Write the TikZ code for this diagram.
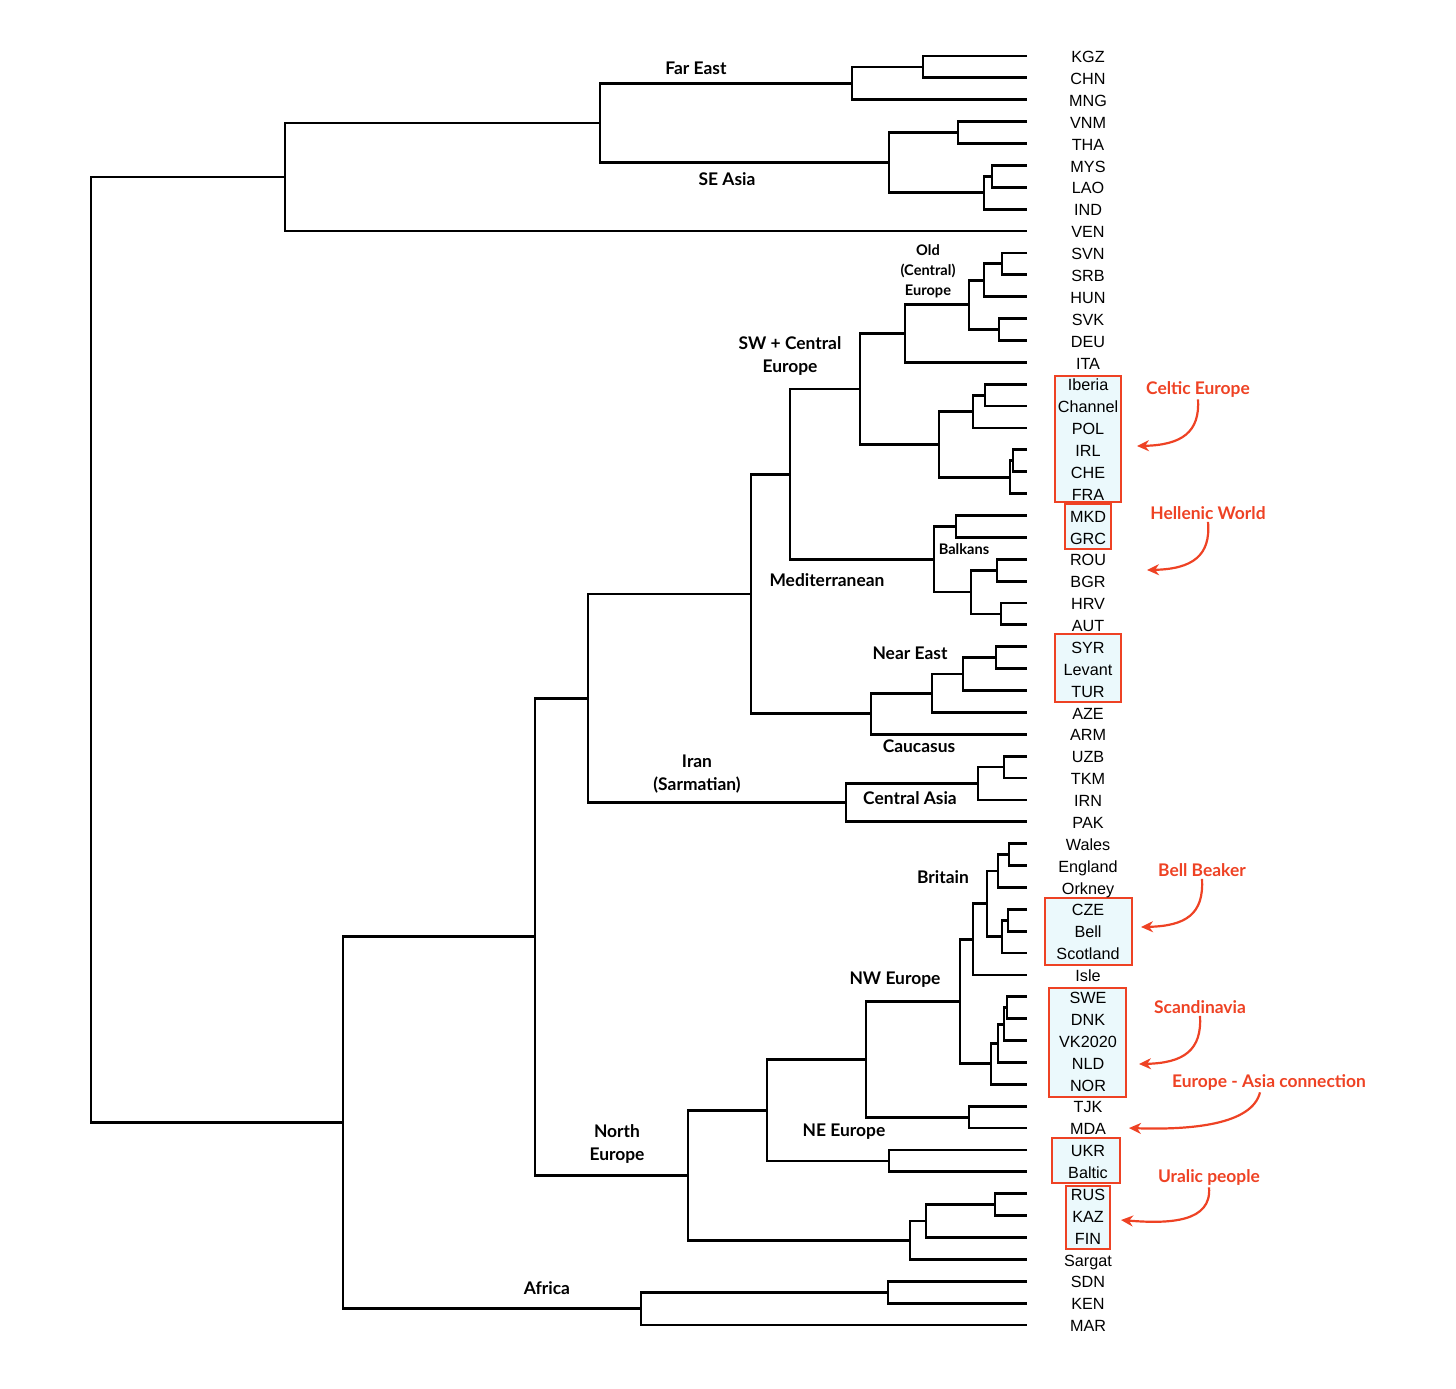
\documentclass[tikz,border=0pt]{standalone}
\usepackage{fontspec}
\setmainfont{Liberation Sans}
\newfontfamily\cladefont{Lato}
\usetikzlibrary{arrows.meta}
\definecolor{annred}{RGB}{238,66,36}
\definecolor{boxfill}{RGB}{235,249,252}
\newcommand{\LY}[1]{56+21.879*(#1)}
\begin{document}
\begin{tikzpicture}[x=0.5pt,y=-0.5pt,
  br/.style={line width=1.4pt, line join=miter},
  leaf/.style={font=\fontsize{8.1}{9.6}\selectfont, inner sep=0pt, text height=5.7pt, text depth=0pt},
  clade/.style={font=\cladefont\bfseries\fontsize{8.7}{11.5}\selectfont, inner sep=0pt, align=center},
  cladesm/.style={font=\cladefont\bfseries\fontsize{7.3}{10}\selectfont, inner sep=0pt, align=center},
  ann/.style={font=\cladefont\bfseries\fontsize{8.7}{10}\selectfont, text=annred, inner sep=1pt},
  annarrow/.style={draw=annred, line width=1.1pt, -{Stealth[length=6pt,width=5.5pt]}},
  hbox/.style={draw=annred, line width=1pt, fill=boxfill}]
\useasboundingbox (0,0) rectangle (1456,1388);

% highlight boxes
\draw[hbox] (1055,376) rectangle (1121,502);
\draw[hbox] (1065,504) rectangle (1111,549);
\draw[hbox] (1055,634) rectangle (1121,702);
\draw[hbox] (1045,898) rectangle (1132,965);
\draw[hbox] (1049,988) rectangle (1126,1097);
\draw[hbox] (1052,1138) rectangle (1120,1183);
\draw[hbox] (1066,1186) rectangle (1110,1249);

% leaves
\foreach \n [count=\i from 0] in {KGZ,CHN,MNG,VNM,THA,MYS,LAO,IND,VEN,SVN,SRB,HUN,SVK,DEU,ITA,Iberia,Channel,POL,IRL,CHE,FRA,MKD,GRC,ROU,BGR,HRV,AUT,SYR,Levant,TUR,AZE,ARM,UZB,TKM,IRN,PAK,Wales,England,Orkney,CZE,Bell,Scotland,Isle,SWE,DNK,VK2020,NLD,NOR,TJK,MDA,UKR,Baltic,RUS,KAZ,FIN,Sargat,SDN,KEN,MAR}{
  \coordinate (\n) at (1027,{56+21.879*\i});
  \node[leaf] (t\n) at (1088,{57+21.879*\i}) {\n};
}

% internal nodes
\coordinate (a1) at (923,{\LY{0.5}});
\coordinate (a2) at (852,{\LY{1.25}});
\coordinate (a3) at (958,{\LY{3.5}});
\coordinate (a4) at (992,{\LY{5.5}});
\coordinate (a5) at (984,{\LY{6.25}});
\coordinate (a6) at (889,{\LY{4.875}});
\coordinate (a7) at (600,{\LY{3.0625}});
\coordinate (a8) at (285,{\LY{5.53125}});
\coordinate (b1) at (1002,{\LY{9.5}});
\coordinate (b2) at (984,{\LY{10.25}});
\coordinate (b3) at (999,{\LY{12.5}});
\coordinate (b4) at (969,{\LY{11.375}});
\coordinate (b5) at (905,{\LY{12.6875}});
\coordinate (c1) at (985,{\LY{15.5}});
\coordinate (c2) at (973,{\LY{16.25}});
\coordinate (c3) at (1013,{\LY{18.5}});
\coordinate (c4) at (1010,{\LY{19.25}});
\coordinate (c5) at (939,{\LY{17.75}});
\coordinate (c6) at (860,{\LY{15.21875}});
\coordinate (d1) at (956,{\LY{21.5}});
\coordinate (d2) at (997,{\LY{23.5}});
\coordinate (d3) at (1001,{\LY{25.5}});
\coordinate (d4) at (971,{\LY{24.5}});
\coordinate (d5) at (934,{\LY{23}});
\coordinate (d6) at (790,{\LY{19.109375}});
\coordinate (e1) at (996,{\LY{27.5}});
\coordinate (e2) at (963,{\LY{28.25}});
\coordinate (e3) at (932,{\LY{29.125}});
\coordinate (e4) at (871,{\LY{30.0625}});
\coordinate (e5) at (751,{\LY{24.5859}});
\coordinate (f1) at (1004,{\LY{32.5}});
\coordinate (f2) at (978,{\LY{33.25}});
\coordinate (f3) at (846,{\LY{34.125}});
\coordinate (f4) at (588,{\LY{29.3555}});
\coordinate (g1) at (1009,{\LY{36.5}});
\coordinate (g2) at (998,{\LY{37.25}});
\coordinate (g3) at (1008,{\LY{39.5}});
\coordinate (g4) at (1002,{\LY{40.25}});
\coordinate (g5) at (987,{\LY{38.75}});
\coordinate (g6) at (973,{\LY{40.375}});
\coordinate (h1) at (1007,{\LY{43.5}});
\coordinate (h2) at (1004,{\LY{44.25}});
\coordinate (h3) at (998,{\LY{45.125}});
\coordinate (h4) at (991,{\LY{46.0625}});
\coordinate (h5) at (960,{\LY{43.21875}});
\coordinate (i1) at (969,{\LY{48.5}});
\coordinate (i2) at (866,{\LY{45.859}});
\coordinate (j1) at (889,{\LY{50.5}});
\coordinate (j2) at (767,{\LY{48.18}});
\coordinate (k1) at (995,{\LY{52.5}});
\coordinate (k2) at (926,{\LY{53.25}});
\coordinate (k3) at (910,{\LY{54.125}});
\coordinate (k4) at (688,{\LY{51.152}});
\coordinate (l1) at (535,{\LY{40.254}});
\coordinate (m1) at (888,{\LY{56.5}});
\coordinate (m2) at (641,{\LY{57.25}});
\coordinate (n1) at (343,{\LY{48.752}});
\coordinate (root) at (91,{\LY{27.1416}});

% brackets
\draw[br] (KGZ) -| (a1) |- (CHN);
\draw[br] (a1) -| (a2) |- (MNG);
\draw[br] (VNM) -| (a3) |- (THA);
\draw[br] (MYS) -| (a4) |- (LAO);
\draw[br] (a4) -| (a5) |- (IND);
\draw[br] (a3) -| (a6) |- (a5);
\draw[br] (a2) -| (a7) |- (a6);
\draw[br] (a7) -| (a8) |- (VEN);
\draw[br] (SVN) -| (b1) |- (SRB);
\draw[br] (b1) -| (b2) |- (HUN);
\draw[br] (SVK) -| (b3) |- (DEU);
\draw[br] (b2) -| (b4) |- (b3);
\draw[br] (b4) -| (b5) |- (ITA);
\draw[br] (Iberia) -| (c1) |- (Channel);
\draw[br] (c1) -| (c2) |- (POL);
\draw[br] (IRL) -| (c3) |- (CHE);
\draw[br] (c3) -| (c4) |- (FRA);
\draw[br] (c2) -| (c5) |- (c4);
\draw[br] (b5) -| (c6) |- (c5);
\draw[br] (MKD) -| (d1) |- (GRC);
\draw[br] (ROU) -| (d2) |- (BGR);
\draw[br] (HRV) -| (d3) |- (AUT);
\draw[br] (d2) -| (d4) |- (d3);
\draw[br] (d1) -| (d5) |- (d4);
\draw[br] (c6) -| (d6) |- (d5);
\draw[br] (SYR) -| (e1) |- (Levant);
\draw[br] (e1) -| (e2) |- (TUR);
\draw[br] (e2) -| (e3) |- (AZE);
\draw[br] (e3) -| (e4) |- (ARM);
\draw[br] (d6) -| (e5) |- (e4);
\draw[br] (UZB) -| (f1) |- (TKM);
\draw[br] (f1) -| (f2) |- (IRN);
\draw[br] (f2) -| (f3) |- (PAK);
\draw[br] (e5) -| (f4) |- (f3);
\draw[br] (Wales) -| (g1) |- (England);
\draw[br] (g1) -| (g2) |- (Orkney);
\draw[br] (CZE) -| (g3) |- (Bell);
\draw[br] (g3) -| (g4) |- (Scotland);
\draw[br] (g2) -| (g5) |- (g4);
\draw[br] (g5) -| (g6) |- (Isle);
\draw[br] (SWE) -| (h1) |- (DNK);
\draw[br] (h1) -| (h2) |- (VK2020);
\draw[br] (h2) -| (h3) |- (NLD);
\draw[br] (h3) -| (h4) |- (NOR);
\draw[br] (g6) -| (h5) |- (h4);
\draw[br] (TJK) -| (i1) |- (MDA);
\draw[br] (h5) -| (i2) |- (i1);
\draw[br] (UKR) -| (j1) |- (Baltic);
\draw[br] (i2) -| (j2) |- (j1);
\draw[br] (RUS) -| (k1) |- (KAZ);
\draw[br] (k1) -| (k2) |- (FIN);
\draw[br] (k2) -| (k3) |- (Sargat);
\draw[br] (j2) -| (k4) |- (k3);
\draw[br] (f4) -| (l1) |- (k4);
\draw[br] (SDN) -| (m1) |- (KEN);
\draw[br] (m1) -| (m2) |- (MAR);
\draw[br] (l1) -| (n1) |- (m2);
\draw[br] (a8) -| (root) |- (n1);

% clade labels
\node[clade] (lFarEast) at (696,68) {Far East};
\node[clade] (lSEAsia) at (727,179) {SE Asia};
\node[cladesm] (lOldEur) at (928,271) {Old\\(Central)\\Europe};
\node[clade] (lSWC) at (790,355.5) {SW + Central\\Europe};
\node[cladesm] (lBalkans) at (964,549) {Balkans};
\node[clade] (lMed) at (827,580) {Mediterranean};
\node[clade] (lNearEast) at (910,653) {Near East};
\node[clade] (lCaucasus) at (919,746) {Caucasus};
\node[clade] (lIran) at (697,774.5) {Iran\\(Sarmatian)};
\node[clade] (lCAsia) at (910,798) {Central Asia};
\node[clade] (lBritain) at (943,877) {Britain};
\node[clade] (lNWEur) at (895,980) {NW Europe};
\node[clade] (lNorth) at (617,1143.5) {North\\Europe};
\node[clade] (lNEEur) at (844,1132) {NE Europe};
\node[clade] (lAfrica) at (547,1288) {Africa};

% annotations
\node[ann] (nCeltic) at (1198,389) {Celtic Europe};
\node[ann] (nHellenic) at (1208,513) {Hellenic World};
\node[ann] (nBell) at (1202,870) {Bell Beaker};
\node[ann] (nScand) at (1200,1007) {Scandinavia};
\node[ann] (nEurAsia) at (1269,1082) {Europe - Asia connection};
\node[ann] (nUralic) at (1209,1177) {Uralic people};

\coordinate (pCeltic) at (1137,446);
\coordinate (pHellenic) at (1147,570);
\coordinate (pBell) at (1141,927);
\coordinate (pScand) at (1139,1064);
\coordinate (pEurAsia) at (1129,1128);
\coordinate (pUralic) at (1121,1220);

\draw[annarrow] (nCeltic.south) .. controls (1200,432) and (1182,445) .. (pCeltic);
\draw[annarrow] (nHellenic.south) .. controls (1211,556) and (1192,569) .. (pHellenic);
\draw[annarrow] (nBell.south) .. controls (1204,914) and (1186,926) .. (pBell);
\draw[annarrow] (nScand.south) .. controls (1202,1050) and (1184,1063) .. (pScand);
\draw[annarrow] ([xshift=-4.5pt]nEurAsia.south) .. controls (1252,1125) and (1190,1130) .. (pEurAsia);
\draw[annarrow] (nUralic.south) .. controls (1212,1222) and (1170,1224) .. (pUralic);
\end{tikzpicture}
\end{document}
